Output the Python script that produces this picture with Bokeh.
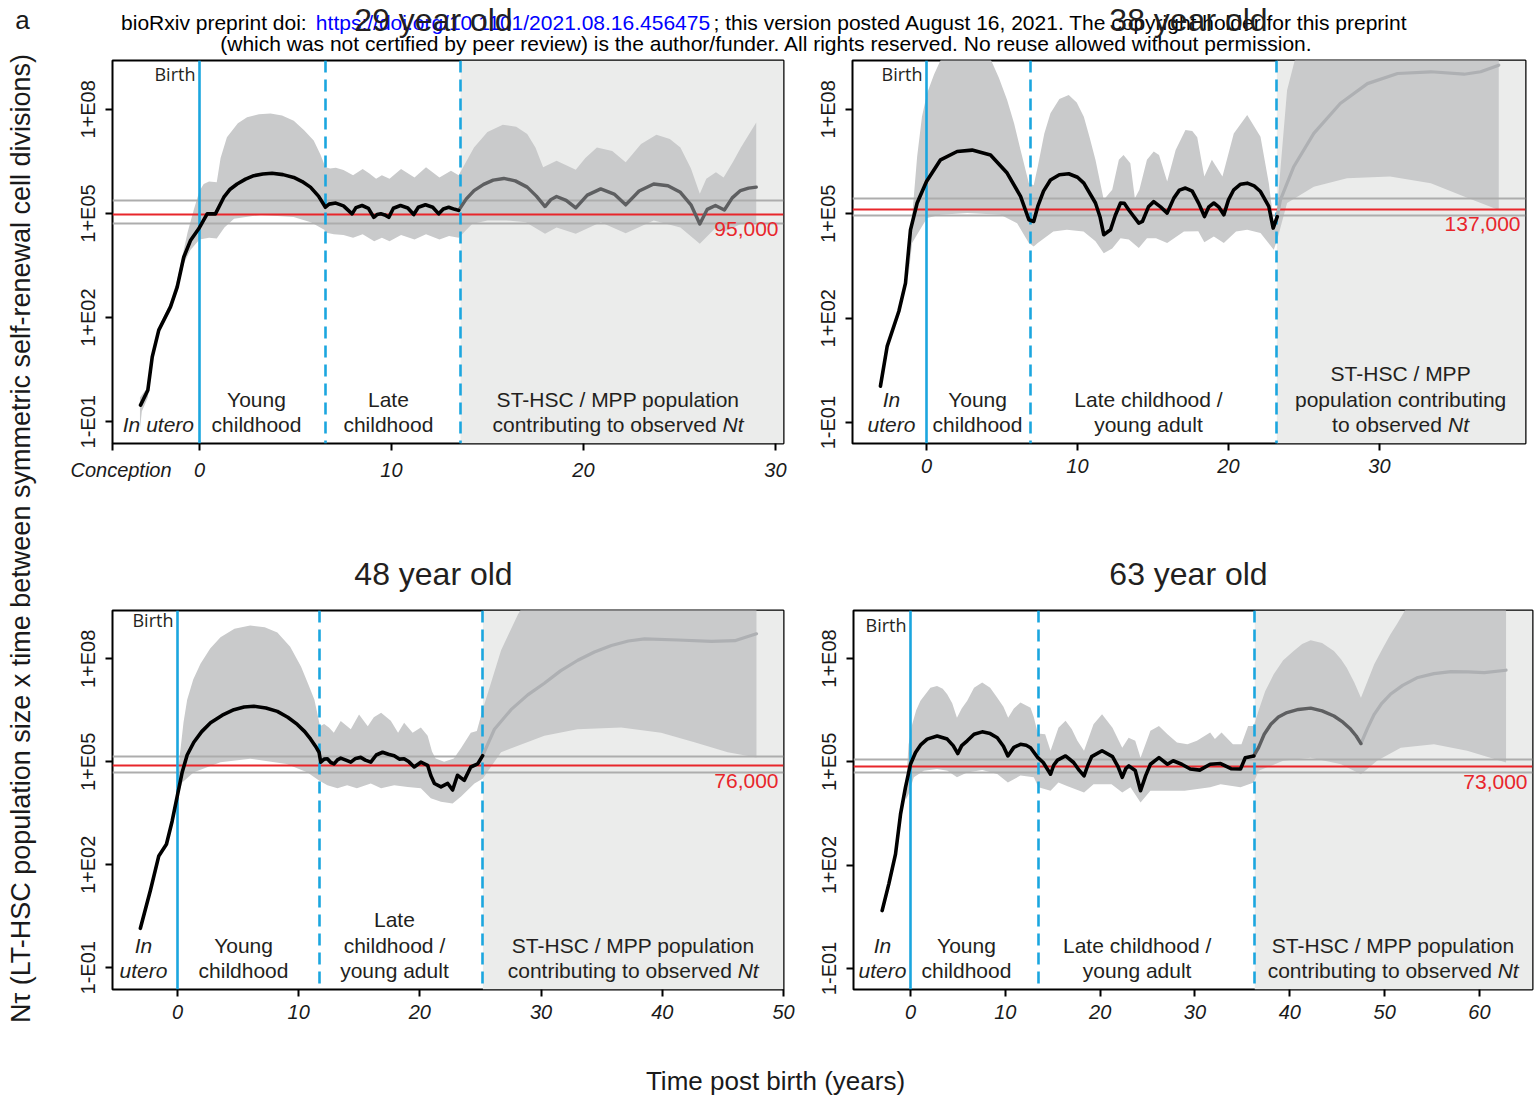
import math
from bokeh.plotting import figure
from bokeh.models import Range1d, FixedTicker, CustomJSTickFormatter, Label, BoxAnnotation
from bokeh.layouts import column, row
from bokeh.core.properties import value
from bokeh.embed import file_html
from bokeh.resources import INLINE

# ---------------- data (x = years post birth, values = log10 N*tau) ----------------
titles = ["29 year old", "38 year old", "48 year old", "63 year old"]
red_values = [95000, 137000, 76000, 73000]
ci_values = [[52000, 240000], [89000, 275000], [48000, 148000], [48000, 115000]]
phase_bounds = [[0, 6.56, 13.6], [0, 6.9, 23.2], [0, 11.7, 25.2], [0, 13.5, 36.3]]

p1_black = [(-3.07, -0.52), (-2.69, -0.09), (-2.46, 0.87), (-2.12, 1.64), (-1.51, 2.31), (-1.16, 2.88),
            (-0.82, 3.74), (-0.47, 4.22), (-0.04, 4.56), (0.4, 4.99), (0.83, 4.99), (1.27, 5.47), (1.6, 5.7),
            (1.96, 5.85), (2.4, 5.99), (2.83, 6.09), (3.3, 6.14), (3.78, 6.16), (4.35, 6.12), (4.91, 6.04),
            (5.35, 5.92), (5.78, 5.76), (6.2, 5.5), (6.56, 5.18), (6.75, 5.27), (7.1, 5.30), (7.5, 5.22),
            (7.95, 4.99), (8.15, 5.17), (8.47, 5.23), (8.8, 5.15), (9.08, 4.89), (9.25, 4.97), (9.45, 4.99),
            (9.65, 4.96), (9.86, 4.89), (10.1, 5.15), (10.47, 5.23), (10.85, 5.16), (11.16, 4.97), (11.4, 5.18),
            (11.77, 5.25), (12.15, 5.18), (12.46, 4.99), (12.7, 5.13), (12.98, 5.18), (13.3, 5.12), (13.5, 5.09)]
p1_dark = [(13.5, 5.09), (13.9, 5.42), (14.3, 5.66), (14.8, 5.84), (15.3, 5.96), (15.85, 6.01), (16.45, 5.94),
           (17.07, 5.76), (17.55, 5.5), (18.0, 5.2), (18.3, 5.4), (18.6, 5.49), (19.1, 5.38), (19.6, 5.16),
           (20.2, 5.53), (20.9, 5.71), (21.6, 5.56), (22.2, 5.25), (22.9, 5.65), (23.66, 5.85), (24.4, 5.8),
           (25.05, 5.61), (25.6, 5.25), (26.06, 4.70), (26.45, 5.12), (26.875, 5.23), (27.34, 5.1), (27.75, 5.45),
           (28.18, 5.66), (28.6, 5.73), (29.0, 5.76)]
p1_light = []
p1_upper = [(-3.1, -0.3), (-2.69, 0.0), (-2.46, 0.95), (-2.12, 1.72), (-1.51, 2.45), (-1.16, 3.1), (-0.82, 3.95),
            (-0.62, 4.45), (-0.3, 5.1), (0.0, 5.65), (0.22, 5.85), (0.5, 5.92), (0.9, 5.9), (1.1, 6.6), (1.43, 7.2),
            (2.0, 7.6), (2.48, 7.77), (3.1, 7.86), (3.7, 7.88), (4.3, 7.82), (4.91, 7.67), (5.45, 7.4), (5.95, 7.1),
            (6.3, 6.7), (6.56, 6.33), (6.8, 6.3), (7.1, 6.32), (7.5, 6.25), (8.0, 6.1), (8.5, 6.28), (8.85, 6.15),
            (9.2, 6.0), (9.5, 6.1), (9.9, 6.0), (10.5, 6.28), (11.2, 6.04), (11.8, 6.33), (12.5, 6.04), (13.1, 6.23),
            (13.5, 6.1), (13.6, 6.2), (14.3, 6.9), (15.0, 7.35), (15.8, 7.56), (16.5, 7.5), (17.07, 7.29),
            (17.5, 6.9), (17.9, 6.33), (18.6, 6.52), (19.6, 6.26), (20.1, 6.6), (20.7, 6.9), (21.5, 6.8),
            (22.2, 6.48), (23.0, 7.0), (23.8, 7.27), (24.5, 7.15), (25.05, 6.9), (25.6, 6.3), (26.06, 5.57),
            (26.4, 6.0), (26.9, 6.19), (27.3, 6.04), (27.8, 6.5), (28.2, 6.9), (29.0, 7.62)]
p1_lower = [(-3.1, -1.2), (-3.0, -0.7), (-2.69, -0.3), (-2.46, 0.75), (-2.12, 1.55), (-1.51, 2.2), (-1.16, 2.75),
            (-0.82, 3.55), (-0.47, 3.95), (0.0, 4.25), (0.5, 4.3), (0.9, 4.28), (1.3, 4.6), (1.8, 4.85), (3.2, 4.96),
            (4.9, 4.9), (5.8, 4.75), (6.5, 4.53), (6.56, 4.45), (7.0, 4.4), (7.5, 4.38), (8.0, 4.3), (8.5, 4.4),
            (9.1, 4.2), (9.5, 4.3), (9.9, 4.2), (10.5, 4.38), (11.2, 4.25), (11.8, 4.4), (12.5, 4.25), (13.0, 4.35),
            (13.5, 4.3), (14.2, 4.7), (15.0, 4.8), (16.0, 4.8), (17.0, 4.75), (18.0, 4.42), (18.6, 4.6),
            (19.6, 4.42), (20.9, 4.75), (22.2, 4.43), (23.66, 4.8), (25.05, 4.6), (26.06, 4.13), (26.9, 4.6),
            (27.3, 4.47), (28.2, 4.7), (29.0, 4.75)]

p2_black = [(-3.05, 0.05), (-2.6, 1.2), (-1.83, 2.2), (-1.39, 3.01), (-1.06, 4.54), (-0.62, 5.31), (0.0, 5.93),
            (0.93, 6.55), (2.03, 6.79), (3.02, 6.83), (4.24, 6.69), (5.34, 6.17), (6.23, 5.5), (6.78, 4.83),
            (7.1, 4.78), (7.37, 5.21), (7.75, 5.65), (8.21, 5.97), (8.8, 6.12), (9.42, 6.15), (10.0, 6.05),
            (10.42, 5.88), (11.19, 5.31), (11.5, 4.9), (11.74, 4.40), (12.19, 4.54), (12.5, 4.95), (12.85, 5.31),
            (13.1, 5.3), (13.4, 5.11), (14.06, 4.73), (14.3, 4.78), (14.7, 5.2), (15.05, 5.35), (15.5, 5.2),
            (15.94, 5.02), (16.38, 5.45), (16.75, 5.68), (17.15, 5.74), (17.6, 5.65), (18.03, 5.3), (18.41, 4.92),
            (18.7, 5.2), (19.03, 5.31), (19.35, 5.2), (19.69, 4.97), (20.0, 5.4), (20.35, 5.69), (20.8, 5.85),
            (21.24, 5.88), (21.7, 5.8), (22.12, 5.64), (22.67, 5.21), (22.96, 4.59), (23.23, 4.92)]
p2_dark = []
p2_light = [(23.23, 4.92), (23.44, 5.4), (24.33, 6.36), (25.65, 7.31), (27.4, 8.17), (29.2, 8.74), (31.2, 9.03),
            (33.4, 9.08), (35.6, 9.01), (36.7, 9.08), (37.9, 9.27)]
p2_upper = [(-1.2, 3.3), (-0.95, 4.92), (-0.62, 6.64), (-0.3, 7.79), (0.04, 8.46), (0.5, 9.0), (0.93, 9.41),
            (1.8, 9.8), (2.8, 9.95), (3.6, 9.85), (4.24, 9.45), (4.8, 8.9), (5.34, 8.27), (5.8, 7.6), (6.23, 6.83),
            (6.78, 5.88), (7.1, 5.82), (7.37, 6.36), (7.8, 7.3), (8.21, 7.89), (8.8, 8.3), (9.42, 8.41),
            (9.95, 8.2), (10.42, 7.79), (10.8, 7.2), (11.19, 6.55), (11.74, 5.4), (12.3, 5.69), (12.74, 6.55),
            (13.05, 6.69), (13.5, 6.45), (13.8, 5.45), (14.1, 5.69), (14.6, 6.55), (15.05, 6.79), (15.4, 6.69),
            (15.94, 5.93), (16.5, 6.83), (17.15, 7.41), (17.6, 7.38), (17.93, 7.2), (18.4, 6.07), (18.9, 6.55),
            (19.6, 6.07), (20.35, 7.31), (21.24, 7.84), (22.12, 7.21), (22.67, 5.88), (23.0, 4.73), (23.23, 5.2),
            (23.88, 8.55), (24.5, 9.6), (37.9, 9.6)]
p2_lower = [(-1.2, 3.2), (-0.95, 4.16), (-0.7, 4.35), (0.04, 4.88), (0.93, 4.97), (2.7, 5.02), (4.9, 4.97),
            (6.0, 4.73), (6.78, 4.16), (7.1, 4.06), (7.37, 4.16), (8.4, 4.49), (9.3, 4.54), (10.4, 4.49),
            (11.19, 4.21), (11.74, 3.87), (12.3, 4.0), (12.85, 4.30), (13.4, 4.26), (14.06, 4.02), (14.6, 4.30),
            (15.2, 4.30), (15.94, 4.16), (17.05, 4.49), (18.0, 4.5), (18.4, 4.18), (19.03, 4.35), (19.69, 4.16),
            (20.5, 4.49), (21.24, 4.54), (22.12, 4.45), (23.0, 3.97), (23.23, 4.26), (23.88, 5.31), (25.65, 5.78),
            (27.85, 6.02), (30.7, 6.07), (33.4, 5.88), (35.6, 5.5), (37.9, 5.11)]

p3_black = [(-3.06, 0.15), (-2.23, 1.26), (-1.54, 2.26), (-0.91, 2.6), (-0.44, 3.27), (0.0, 4.03), (0.39, 4.7),
            (0.8, 5.2), (1.35, 5.57), (2.0, 5.88), (2.73, 6.14), (3.7, 6.36), (4.66, 6.52), (5.5, 6.6), (6.3, 6.62),
            (7.3, 6.57), (8.24, 6.47), (9.1, 6.3), (9.89, 6.09), (10.5, 5.88), (10.99, 5.66), (11.4, 5.45),
            (11.68, 5.28), (11.82, 4.99), (12.1, 5.08), (12.37, 5.09), (12.65, 4.98), (12.92, 4.94), (13.2, 5.06),
            (13.47, 5.11), (13.9, 5.05), (14.3, 4.99), (14.7, 5.1), (15.12, 5.13), (15.5, 5.05), (15.95, 4.99),
            (16.4, 5.2), (16.92, 5.28), (17.4, 5.22), (17.88, 5.18), (18.3, 5.08), (18.7, 5.09), (19.1, 5.0),
            (19.53, 4.85), (20.08, 4.99), (20.64, 4.9), (20.9, 4.6), (21.2, 4.37), (21.74, 4.27), (22.3, 4.37),
            (22.7, 4.18), (23.1, 4.61), (23.66, 4.46), (24.2, 4.85), (24.77, 4.94), (25.18, 5.18)]
p3_dark = []
p3_light = [(25.18, 5.18), (26.15, 5.95), (27.52, 6.52), (28.9, 6.95), (30.27, 7.29), (31.6, 7.65), (33.03, 7.96),
            (34.4, 8.2), (35.8, 8.39), (37.2, 8.52), (38.54, 8.58), (41.3, 8.55), (44.05, 8.51), (45.98, 8.53),
            (47.77, 8.73)]
p3_upper = [(-0.1, 4.03), (0.1, 4.9), (0.25, 5.37), (0.5, 6.15), (0.8, 6.81), (1.3, 7.4), (1.9, 7.86), (2.7, 8.3),
            (3.55, 8.63), (4.7, 8.88), (6.0, 8.97), (7.2, 8.92), (8.24, 8.77), (9.3, 8.35), (10.2, 7.77),
            (10.8, 7.25), (11.3, 6.81), (11.76, 6.04), (12.1, 6.1), (12.5, 6.0), (12.9, 5.85), (13.47, 6.19),
            (14.3, 5.95), (14.98, 6.38), (15.7, 6.04), (16.2, 6.3), (16.8, 6.43), (17.6, 6.2), (18.2, 5.85),
            (18.7, 6.14), (19.4, 5.85), (20.08, 6.0), (20.64, 5.76), (21.0, 5.3), (21.3, 5.1), (22.0, 5.0),
            (22.8, 5.1), (23.4, 5.4), (24.2, 5.85), (24.7, 5.9), (25.18, 6.52), (26.7, 8.25), (28.1, 9.3),
            (28.6, 9.6), (47.77, 9.6)]
p3_lower = [(-0.1, 3.8), (0.0, 3.94), (0.39, 4.4), (1.35, 4.7), (3.55, 4.99), (6.0, 5.09), (9.0, 4.94), (10.7, 4.7),
            (11.68, 4.46), (12.37, 4.32), (13.2, 4.23), (14.0, 4.32), (14.8, 4.23), (15.95, 4.37), (16.8, 4.23),
            (17.88, 4.32), (19.0, 4.27), (20.08, 4.23), (20.9, 3.94), (21.74, 3.84), (22.7, 3.79), (23.4, 3.99),
            (24.5, 4.37), (25.18, 4.51), (26.7, 5.28), (30.27, 5.76), (33.0, 5.95), (36.6, 6.0), (39.9, 5.85),
            (42.65, 5.57), (45.4, 5.28), (47.77, 5.13)]

p4_black = [(-2.99, 0.68), (-2.29, 1.45), (-1.58, 2.32), (-1.05, 3.48), (-0.53, 4.26), (0.0, 4.93), (0.53, 5.27),
            (1.1, 5.5), (1.76, 5.66), (2.81, 5.75), (3.87, 5.66), (4.5, 5.47), (4.99, 5.24), (5.4, 5.47),
            (5.98, 5.61), (6.7, 5.8), (7.56, 5.87), (8.4, 5.82), (9.15, 5.7), (9.8, 5.45), (10.27, 5.17),
            (10.9, 5.42), (11.6, 5.51), (12.2, 5.48), (12.66, 5.41), (13.43, 5.12), (14.0, 4.98), (14.77, 4.64),
            (15.1, 4.9), (15.5, 5.05), (16.35, 5.17), (17.2, 4.98), (17.8, 4.75), (18.3, 4.59), (18.7, 4.9),
            (19.1, 5.15), (20.2, 5.32), (21.3, 5.15), (21.9, 4.85), (22.33, 4.55), (22.7, 4.8), (23.03, 4.88),
            (23.7, 4.75), (24.26, 4.16), (24.8, 4.6), (25.3, 4.93), (26.2, 5.12), (27.1, 4.93), (27.7, 5.03),
            (28.6, 4.93), (29.5, 4.79), (30.5, 4.76), (31.6, 4.93), (32.7, 4.95), (33.8, 4.8), (34.8, 4.79),
            (35.3, 5.12), (36.2, 5.17)]
p4_dark = [(36.2, 5.17), (36.7, 5.41), (37.3, 5.8), (38.0, 6.09), (38.8, 6.3), (39.7, 6.43), (40.9, 6.52),
           (42.2, 6.56), (43.4, 6.48), (44.65, 6.33), (45.6, 6.15), (46.4, 5.95), (47.0, 5.75), (47.5, 5.53)]
p4_light = [(47.5, 5.53), (48.2, 5.98), (48.9, 6.38), (49.7, 6.7), (50.6, 6.96), (51.9, 7.22), (53.4, 7.44),
            (55.2, 7.56), (57.0, 7.62), (58.8, 7.61), (60.5, 7.59), (62.8, 7.66)]
p4_upper = [(-0.5, 4.2), (-0.2, 5.5), (0.18, 6.09), (0.6, 6.5), (1.05, 6.77), (2.1, 7.15), (2.8, 7.2), (3.4, 7.12),
            (3.87, 6.96), (4.4, 6.7), (4.9, 6.28), (5.4, 6.55), (5.98, 6.77), (6.7, 7.15), (7.56, 7.3), (8.4, 7.15),
            (9.15, 6.86), (9.8, 6.6), (10.3, 6.28), (10.9, 6.55), (11.6, 6.72), (12.66, 6.57), (13.0, 6.3),
            (13.43, 5.82), (14.2, 5.8), (14.77, 5.32), (15.6, 5.99), (16.35, 6.19), (17.0, 5.95), (17.6, 5.61),
            (18.3, 5.32), (19.3, 6.09), (20.2, 6.38), (21.3, 5.99), (22.33, 5.41), (23.0, 5.7), (23.7, 5.61),
            (24.26, 5.12), (25.3, 5.9), (26.2, 6.04), (27.1, 5.8), (28.1, 5.56), (29.2, 5.51), (30.2, 5.61),
            (31.6, 5.85), (32.1, 5.66), (32.8, 5.85), (34.0, 5.51), (34.9, 5.51), (35.6, 6.04), (36.2, 6.04),
            (36.7, 6.48), (37.4, 7.05), (38.3, 7.54), (39.3, 7.95), (40.4, 8.22), (41.3, 8.42), (42.2, 8.53),
            (43.4, 8.45), (44.65, 8.22), (45.4, 7.98), (46.0, 7.73), (46.8, 7.3), (47.5, 6.86), (48.2, 7.35),
            (48.9, 7.83), (49.8, 8.3), (50.6, 8.7), (51.3, 9.0), (52.0, 9.33), (52.5, 9.6), (62.8, 9.6)]
p4_lower = [(-0.5, 3.9), (-0.2, 4.06), (0.35, 4.55), (1.4, 4.74), (2.8, 4.79), (3.9, 4.74), (4.9, 4.55),
            (5.98, 4.69), (7.56, 4.76), (9.15, 4.65), (10.27, 4.4), (11.6, 4.6), (13.0, 4.55), (13.5, 4.26),
            (14.77, 4.16), (15.6, 4.4), (16.5, 4.3), (18.3, 4.11), (19.3, 4.35), (21.2, 4.35), (22.33, 4.11),
            (23.2, 4.26), (24.26, 3.82), (25.3, 4.16), (27.1, 4.16), (28.9, 4.16), (31.6, 4.26), (32.7, 4.35),
            (34.8, 4.26), (36.2, 4.4), (36.7, 4.74), (39.3, 5.03), (42.2, 5.12), (45.4, 4.93), (47.5, 4.64),
            (49.2, 5.03), (51.7, 5.41), (55.2, 5.51), (58.7, 5.32), (62.8, 4.98)]

x_ticks = [[-4.52, 0, 10, 20, 30], [0, 10, 20, 30], [0, 10, 20, 30, 40, 50], [0, 10, 20, 30, 40, 50, 60]]
y_ticks = [0.1, 100, 1e5, 1e8]

# ---------------- styles / layout geometry ----------------
TXT = "#231f20"
BLUE = "#1ba6df"
RED = "#e8262b"
BAND = "#c9cacb"
SHADE = "#ebeceb"
FONT = "Liberation Sans"
HEADER_H = 56
LEFT_W = 50

panels_cfg = [
    dict(w=750, h=484, bl=62, br=17, bt=3, bb=97, xr=(-4.53, 30.42), yr=(-1.626, 9.408), fw=671,
         black=p1_black, dark=p1_dark, light=p1_light, upper=p1_upper, lower=p1_lower),
    dict(w=734, h=484, bl=52, br=9, bt=4, bb=96, xr=(-4.9, 39.67), yr=(-1.599, 9.404), fw=673,
         black=p2_black, dark=p2_dark, light=p2_light, upper=p2_upper, lower=p2_lower),
    dict(w=750, h=440, bl=62, br=17, bt=10, bb=46, xr=(-5.36, 50.0), yr=(-1.632, 9.409), fw=671,
         black=p3_black, dark=p3_dark, light=p3_light, upper=p3_upper, lower=p3_lower),
    dict(w=734, h=440, bl=53, br=2, bt=10, bb=51, xr=(-6.01, 65.59), yr=(-1.611, 9.394), fw=679,
         black=p4_black, dark=p4_dark, light=p4_light, upper=p4_upper, lower=p4_lower),
]

# phase label specs: (lines, x_center, italic)
phase_labels = [
    [(["In utero"], -2.14, True), (["Young", "childhood"], 2.97, False), (["Late", "childhood"], 9.84, False)],
    [(["In", "utero"], -2.32, True), (["Young", "childhood"], 3.38, False),
     (["Late childhood /", "young adult"], 14.7, False)],
    [(["In", "utero"], -2.8, True), (["Young", "childhood"], 5.45, False),
     (["Late", "childhood /", "young adult"], 17.9, False)],
    [(["In", "utero"], -2.95, True), (["Young", "childhood"], 5.9, False),
     (["Late childhood /", "young adult"], 23.9, False)],
]
st_labels = [
    (["ST-HSC / MPP population", "contributing to observed "], 21.8),
    (["ST-HSC / MPP", "population contributing", "to observed "], 31.4),
    (["ST-HSC / MPP population", "contributing to observed "], 37.6),
    (["ST-HSC / MPP population", "contributing to observed "], 50.9),
]
LINE_Y = [19, 44.5, 70]


def unzip(pairs):
    return [a for a, _ in pairs], [10 ** b for _, b in pairs]


def add_label(p, text, x, y, xu="data", yu="screen", size="21px", align="center", style="normal",
              color=TXT, font=FONT, xoff=0, yoff=0):
    p.add_layout(Label(x=x, y=y, x_units=xu, y_units=yu, text=text, text_font=font, text_font_size=size,
                       text_align=align, text_baseline="middle", text_font_style=style, text_color=color,
                       x_offset=xoff, y_offset=yoff))


def make_panel(i):
    c = panels_cfg[i]
    p = figure(width=c["w"], height=c["h"], x_range=Range1d(*c["xr"]),
               y_range=Range1d(10 ** c["yr"][0], 10 ** c["yr"][1]), y_axis_type="log",
               toolbar_location=None, output_backend="svg", title=None,
               min_border_left=c["bl"], min_border_right=c["br"], min_border_top=c["bt"],
               min_border_bottom=c["bb"])
    p.background_fill_color = "white"
    p.border_fill_color = "white"
    p.outline_line_color = "black"
    p.outline_line_width = 2
    p.xgrid.visible = False
    p.ygrid.visible = False
    for ax in (p.xaxis[0], p.yaxis[0]):
        ax.axis_line_color = None
        ax.major_tick_out = 7
        ax.major_tick_in = 0
        ax.minor_tick_out = 0
        ax.minor_tick_in = 0
        ax.major_tick_line_width = 2
        ax.major_label_text_font = FONT
        ax.major_label_text_font_size = "20px"
        ax.major_label_text_color = "#1a1a1a"
    p.xaxis[0].ticker = FixedTicker(ticks=x_ticks[i])
    p.xaxis[0].major_label_text_font_style = "italic"
    p.xaxis[0].major_label_standoff = 8
    # the conception mark sits on the frame's left edge; its label is shifted right with no-break spaces
    p.xaxis[0].formatter = CustomJSTickFormatter(code="""
        if (tick < -1) { return "\\u00a0\\u00a0\\u00a0Conception"; }
        return String(Math.round(tick));
    """)
    p.yaxis[0].ticker = FixedTicker(ticks=y_ticks)
    p.yaxis[0].major_label_orientation = "vertical"
    p.yaxis[0].major_label_standoff = 6
    p.yaxis[0].formatter = CustomJSTickFormatter(code="""
        const e = Math.round(Math.log10(tick));
        const a = Math.abs(e);
        return "1" + (e < 0 ? "-" : "+") + "E" + (a < 10 ? "0" + a : String(a));
    """)

    b0, b1, b2 = phase_bounds[i]
    p.add_layout(BoxAnnotation(left=b2, fill_color=SHADE, fill_alpha=1.0, line_color=None, level="underlay"))

    ux, uy = unzip(c["upper"])
    lx, ly = unzip(c["lower"])
    p.patch(ux + lx[::-1], uy + ly[::-1], fill_color=BAND, line_color=None)

    p.hspan(y=ci_values[i], line_color="#adadad", line_width=2)
    p.hspan(y=[red_values[i]], line_color=RED, line_width=2)
    p.vspan(x=[b0], line_color=BLUE, line_width=2.6)
    p.vspan(x=[b1, b2], line_color=BLUE, line_width=2.6, line_dash="12 7")

    if c["light"]:
        x, y = unzip(c["light"])
        p.line(x, y, line_color="#aeb0b3", line_width=3.2, line_join="round", line_cap="round")
    if c["dark"]:
        x, y = unzip(c["dark"])
        p.line(x, y, line_color="#5e5f61", line_width=3.4, line_join="round", line_cap="round")
    x, y = unzip(c["black"])
    p.line(x, y, line_color="black", line_width=3.6, line_join="round", line_cap="round")

    # annotations
    add_label(p, "Birth", b0, c["h"] - c["bt"] - c["bb"] - 14, size="18px", align="right",
              font="Open Sans", xoff=-4)
    for lines, xc, ital in phase_labels[i]:
        n = len(lines)
        for k, s in enumerate(lines):
            add_label(p, s, xc, LINE_Y[n - 1 - k], style="italic" if ital else "normal")
    lines, xc = st_labels[i]
    n = len(lines)
    for k, s in enumerate(lines):
        yy = LINE_Y[n - 1 - k]
        if k < n - 1:
            add_label(p, s, xc, yy)
        else:
            wn = 230 if s.startswith("contrib") else 116
            total = wn + 21
            add_label(p, s, xc, yy, align="left", xoff=-total / 2)
            add_label(p, "Nt", xc, yy, align="left", style="italic", xoff=-total / 2 + wn)
    add_label(p, f"{red_values[i]:,}", c["fw"] - 5, red_values[i], xu="screen", yu="data",
              align="right", color=RED, yoff=-15)
    return p


def helper(w, h):
    p = figure(width=w, height=h, x_range=Range1d(0, w), y_range=Range1d(h, 0), toolbar_location=None,
               output_backend="svg", x_axis_location=None, y_axis_location=None, min_border=0, title=None)
    p.outline_line_color = None
    p.grid.visible = False
    p.background_fill_color = "white"
    p.border_fill_color = "white"
    return p


def txt(p, x, y, s, size, align="center", color=TXT, style="normal", angle=0.0):
    p.text(x=[x], y=[y], text=[s], text_font=value(FONT), text_font_size=value(size), text_align=align,
           text_baseline="middle", text_color=color, text_font_style=style, angle=angle)


# left strip (absolute x 0..50, full height): panel letter and y-axis title
left = helper(LEFT_W, 1100)
txt(left, 22, 19, "a", "26px", color="#1a1a1a")
txt(left, 20, 538, "Nτ (LT-HSC population size x time between symmetric self-renewal cell divisions)",
    "27px", color="#1a1a1a", angle=math.pi / 2)

# header strip (absolute x 50..1534, y 0..56); x positions below are absolute minus LEFT_W
header = helper(1534 - LEFT_W, HEADER_H)
txt(header, 312 - LEFT_W, 22, "bioRxiv preprint doi: ", "21px", align="right", color="black")
txt(header, 512.5 - LEFT_W, 22, "https://doi.org/10.1101/2021.08.16.456475", "21px", color="#0000ff")
txt(header, 713 - LEFT_W, 22, "; this version posted August 16, 2021. The copyright holder for this preprint",
    "21px", align="left", color="black")
txt(header, 766 - LEFT_W, 43, "(which was not certified by peer review) is the author/funder. All rights reserved. "
                              "No reuse allowed without permission.", "21px", color="black")
txt(header, 433 - LEFT_W, 19, titles[0], "32px", color=TXT)
txt(header, 1188 - LEFT_W, 19, titles[1], "32px", color=TXT)

# middle strip with lower panel titles (absolute y 540..600)
mid = helper(1534 - LEFT_W, 60)
txt(mid, 433 - LEFT_W, 33, titles[2], "32px", color=TXT)
txt(mid, 1188 - LEFT_W, 33, titles[3], "32px", color=TXT)

# bottom strip: x-axis title (absolute y 1040..1100)
bottom = helper(1534 - LEFT_W, 60)
txt(bottom, 775 - LEFT_W, 40, "Time post birth (years)", "26px", color="#1a1a1a")

p1, p2, p3, p4 = [make_panel(i) for i in range(4)]

layout = row(left, column(header, row(p1, p2), mid, row(p3, p4), bottom))
open("out.html", "w").write(file_html(layout, INLINE))
